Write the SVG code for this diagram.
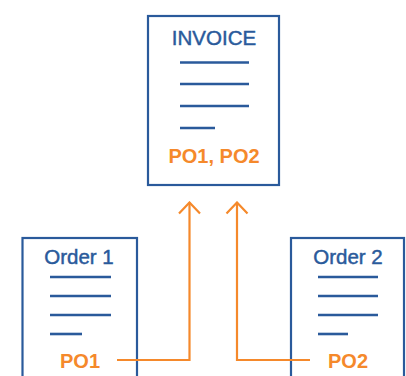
<svg xmlns="http://www.w3.org/2000/svg" width="406" height="376" viewBox="0 0 406 376">
<defs>
<style>
.box{fill:#fff;stroke:#2A5A9B;stroke-width:2.2}
.ln{stroke:#2A5A9B;stroke-width:2.6;stroke-linecap:butt}
.ttl{font-family:"Liberation Sans",Arial,sans-serif;font-size:20.5px;fill:#2A5A9B;stroke:#2A5A9B;stroke-width:0.45;text-anchor:middle}
.po{font-family:"Liberation Sans",Arial,sans-serif;font-size:20px;font-weight:bold;fill:#F5892B;text-anchor:middle}
.con{fill:none;stroke:#F5892B;stroke-width:2.2}
</style>
<marker id="ah" viewBox="0 0 14 24" refX="12.5" refY="12" markerWidth="14" markerHeight="24" markerUnits="userSpaceOnUse" orient="auto">
<path d="M1.5,1.5 L12.5,12 L1.5,22.5" fill="none" stroke="#F5892B" stroke-width="2.2"/>
</marker>
</defs>
<rect width="406" height="376" fill="#fff"/>
<g id="invoice">
<rect class="box" x="148" y="16" width="131" height="169"/>
<text class="ttl" x="214" y="45">INVOICE</text>
<line class="ln" x1="180" y1="62.5" x2="249" y2="62.5"/>
<line class="ln" x1="180" y1="84" x2="249" y2="84"/>
<line class="ln" x1="180" y1="106" x2="249" y2="106"/>
<line class="ln" x1="180" y1="128" x2="215" y2="128"/>
<text class="po" x="214" y="163">PO1, PO2</text>
</g>
<g id="order1">
<rect class="box" x="22.5" y="238" width="114.5" height="150"/>
<text class="ttl" x="79" y="264">Order 1</text>
<line class="ln" x1="50" y1="277" x2="111" y2="277"/>
<line class="ln" x1="50" y1="296" x2="111" y2="296"/>
<line class="ln" x1="50" y1="315" x2="111" y2="315"/>
<line class="ln" x1="50" y1="334" x2="82" y2="334"/>
<text class="po" x="80" y="367.5">PO1</text>
</g>
<g id="order2">
<rect class="box" x="291" y="238" width="113" height="150"/>
<text class="ttl" x="348" y="264">Order 2</text>
<line class="ln" x1="318" y1="277" x2="378" y2="277"/>
<line class="ln" x1="318" y1="296" x2="378" y2="296"/>
<line class="ln" x1="318" y1="315" x2="378" y2="315"/>
<line class="ln" x1="318" y1="334" x2="348" y2="334"/>
<text class="po" x="348" y="367.5">PO2</text>
</g>
<g id="connectors">
<path class="con" d="M117,360 H189.5 V202.5" marker-end="url(#ah)"/>
<path class="con" d="M310,360 H237 V202.5" marker-end="url(#ah)"/>
</g>
</svg>
